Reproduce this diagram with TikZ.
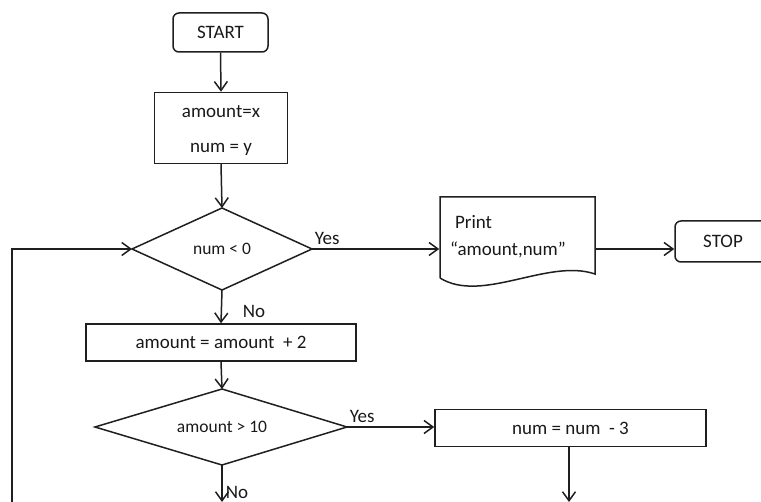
\documentclass[tikz,border=0pt]{standalone}
\usepackage{fontspec}
\setmainfont{Carlito}
\usetikzlibrary{arrows.meta,shapes.geometric}
\begin{document}
\begin{tikzpicture}[x=1pt,y=-1pt,
  line width=1.5pt, draw={black!88},
  arr/.style={-{Straight Barb[length=9pt,width=13pt,line width=1.5pt]}},
  txt/.style={font=\fontsize{19}{21}\selectfont, text=black!90},
  small/.style={font=\fontsize{17.5}{19}\selectfont, text=black!90},
  term/.style={draw, rounded corners=6pt, inner sep=0pt, txt},
  proc/.style={draw, inner sep=0pt, txt},
  lbl/.style={txt, inner sep=1pt}]
\useasboundingbox (0,0) rectangle (761,502);
\clip (0,0) rectangle (761,502);

% terminals
\node[term, minimum width=95pt, minimum height=39pt] (start) at (220.5,32.5) {START};
\node[term, minimum width=96pt, minimum height=41pt] (stop) at (723,241.5) {STOP};

% initialisation
\node[proc, minimum width=133pt, minimum height=71pt] (init) at (221,128) {};
\node[txt, align=center] (inittext) at ([yshift=-3pt]init.center) {amount=x\\[14pt]num = y};

% first decision
\draw (222,208) coordinate (d1n) -- (312,249) coordinate (d1e) -- (222,290) coordinate (d1s) -- (132,249) coordinate (d1w) -- cycle;
\node[small] (d1) at (222,249) {num < 0};

% print document
\node[minimum width=155pt, minimum height=80pt, inner sep=0pt] (doc) at (517.5,237) {};
\draw (440,278) -- (440,197) -- (595,197) -- (595,274)
  .. controls (548,258) and (482,304) .. (440,278);
\node[txt, anchor=west] (p1) at (451,222) {Print};
\node[txt, anchor=west] (p2) at (446,250) {“amount,num”};

% increment box
\node[proc, minimum width=270pt, minimum height=37pt] (inc) at (221,342.5) {amount = amount\ \ + 2};

% second decision
\draw (222,389) coordinate (d2n) -- (347,427) coordinate (d2e) -- (222,465) coordinate (d2s) -- (95,427) coordinate (d2w) -- cycle;
\node[small] (d2) at (222,427) {amount > 10};

% decrement box
\node[proc, minimum width=271pt, minimum height=37pt] (dec) at (570.5,428) {num = num\ \ - 3};

% open ends at the bottom
\coordinate (loopbot) at (12,510);
\coordinate (d2out) at (222,502);
\coordinate (decout) at (569,502);

% connectors
\draw[arr] (start.south) -- (init.north);
\draw[arr] (init.south) -- (d1n);
\draw[arr] (d1e) -- (doc.west |- d1e);
\draw[arr] (doc.east |- d1e) -- (stop.west |- d1e);
\draw[arr] (d1s) -- (inc.north);
\draw[arr] (inc.south) -- (d2n);
\draw[arr] (d2e) -- (dec.west |- d2e);
\draw[arr] (dec.south -| decout) -- (decout);
\draw[arr] (d2s) -- (d2out);
\draw[arr] (loopbot) |- (d1w);

% branch labels
\node[lbl, anchor=south west] (yes1) at (313,246) {Yes};
\node[lbl, anchor=west] (no1) at (241,311) {No};
\node[lbl, anchor=south west] (yes2) at (348,424) {Yes};
\node[lbl, anchor=west] (no2) at (224,492) {No};
\end{tikzpicture}
\end{document}
